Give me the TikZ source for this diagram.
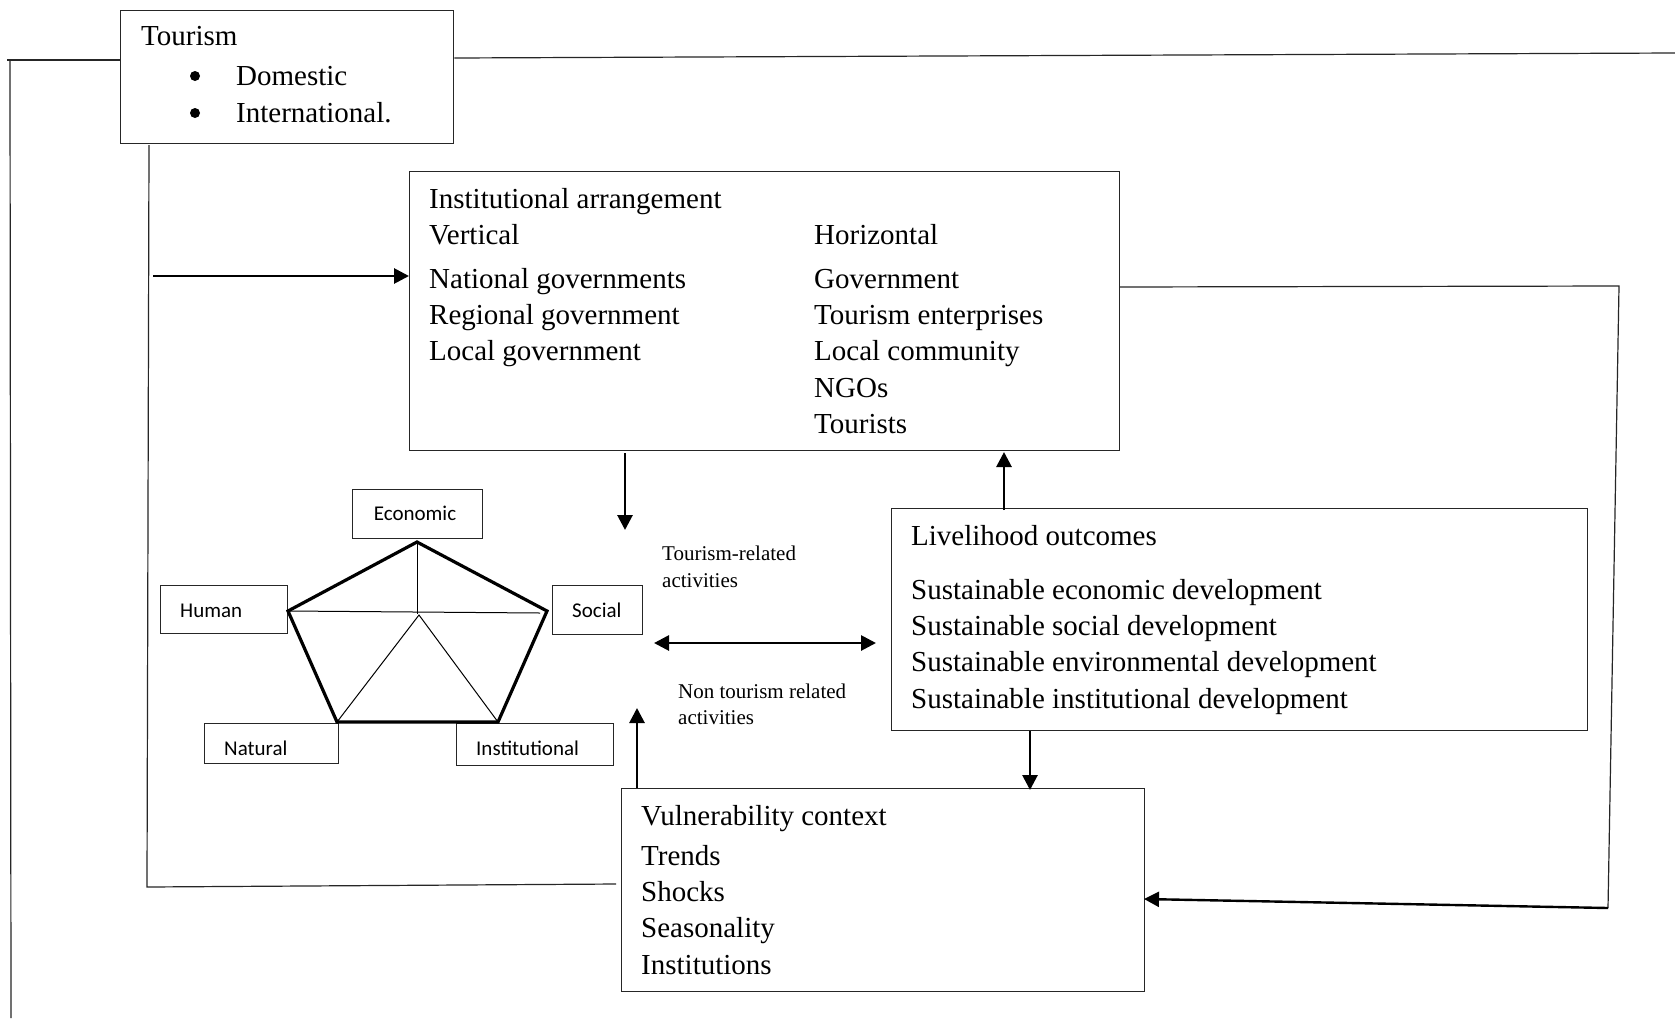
\documentclass[tikz,border=0pt]{standalone}
\usepackage{fontspec}
\setmainfont{Liberation Serif}
\newfontfamily\carlfont{Carlito}
\usetikzlibrary{arrows.meta}
\begin{document}
\begin{tikzpicture}[x=1pt,y=-1pt,
  box/.style={draw=black!85,line width=1.3pt,anchor=north west,inner sep=0pt},
  pbox/.style={draw=black!85,line width=1.3pt,anchor=north west,inner sep=0pt},
  bigtext/.style={anchor=base west,inner sep=0pt,font=\fontsize{29}{35}\selectfont},
  smalltext/.style={anchor=base west,inner sep=0pt,font=\fontsize{21}{26}\selectfont},
  captext/.style={anchor=base west,inner sep=0pt,font=\carlfont\fontsize{21}{26}\selectfont},
  thinline/.style={line width=1.2pt,draw=black!85},
  arr/.style={line width=2.8pt,-{Triangle[length=15pt,width=15pt]}},
  darr/.style={line width=2.8pt,{Triangle[length=15pt,width=15pt]}-{Triangle[length=15pt,width=15pt]}},
  penout/.style={line width=3.2pt,line join=miter},
  penin/.style={line width=1pt}]
\useasboundingbox (0,0) rectangle (1675,1018);
\fill[white] (0,0) rectangle (1675,1018);

% boxes
\node[box,minimum width=333pt,minimum height=133pt] (tour) at (120,10) {};
\node[box,minimum width=710pt,minimum height=279pt] (inst) at (409,171) {};
\node[box,minimum width=696pt,minimum height=222pt] (liv) at (891,508) {};
\node[box,minimum width=523pt,minimum height=203pt] (vuln) at (621,788) {};

% tourism text
\node[bigtext] (t0) at (141,45) {Tourism};
\node[bigtext] (t1) at (236,85) {Domestic};
\node[bigtext] (t2) at (236,122) {International.};
\fill (195,76) circle (5pt);
\fill (195,113) circle (5pt);

% institutional text
\node[bigtext] (i0) at (429,208) {Institutional arrangement};
\node[bigtext] (i1) at (429,244) {Vertical};
\node[bigtext] (i2) at (429,288) {National governments};
\node[bigtext] (i3) at (429,324) {Regional government};
\node[bigtext] (i4) at (429,360) {Local government};
\node[bigtext] (h1) at (814,244) {Horizontal};
\node[bigtext] (h2) at (814,288) {Government};
\node[bigtext] (h3) at (814,324) {Tourism enterprises};
\node[bigtext] (h4) at (814,360) {Local community};
\node[bigtext] (h5) at (814,397) {NGOs};
\node[bigtext] (h6) at (814,433) {Tourists};

% livelihood text
\node[bigtext] (l0) at (911,545) {Livelihood outcomes};
\node[bigtext] (l1) at (911,599) {Sustainable economic development};
\node[bigtext] (l2) at (911,635) {Sustainable social development};
\node[bigtext] (l3) at (911,671) {Sustainable environmental development};
\node[bigtext] (l4) at (911,708) {Sustainable institutional development};

% vulnerability text
\node[bigtext] (v0) at (641,825) {Vulnerability context};
\node[bigtext] (v1) at (641,865) {Trends};
\node[bigtext] (v2) at (641,901) {Shocks};
\node[bigtext] (v3) at (641,937) {Seasonality};
\node[bigtext] (v4) at (641,974) {Institutions};

% activities labels
\node[smalltext] (a1) at (662,560) {Tourism-related};
\node[smalltext] (a2) at (662,587) {activities};
\node[smalltext] (a3) at (678,698) {Non tourism related};
\node[smalltext] (a4) at (678,724) {activities};

% capital boxes
\node[pbox,minimum width=130pt,minimum height=49pt] (eco) at (352,489) {};
\node[pbox,minimum width=127pt,minimum height=48pt] (hum) at (160,585) {};
\node[pbox,minimum width=90pt,minimum height=49pt] (soc) at (552,585) {};
\node[pbox,minimum width=134pt,minimum height=40pt] (nat) at (204,723) {};
\node[pbox,minimum width=157pt,minimum height=42pt] (ins) at (456,723) {};
\node[captext,anchor=base] (ecot) at (415,520) {Economic};
\node[captext] (humt) at (180,617) {Human};
\node[captext] (soct) at (572,617) {Social};
\node[captext] (natt) at (224,755) {Natural};
\node[captext] (inst2) at (476,755) {Institutional};

% pentagon
\coordinate (pT) at (417,542);
\coordinate (pL) at (288,611);
\coordinate (pR) at (547,611);
\coordinate (pBL) at (337,722);
\coordinate (pBR) at (498,722);
\coordinate (pC) at (417,614);
\coordinate (pCr) at (540,613);
\draw[penin] (pT) -- (pC);
\draw[penin] (pL) -- (pCr);
\draw[penin] (pBL) -- (419,615) -- (pBR);
\draw[penout] (pT) -- (pR) -- (pBR) -- (pBL) -- (pL) -- cycle;

% outer frame lines from tourism box
\coordinate (oL1) at (7,60);
\coordinate (oL2) at (11,1018);
\coordinate (oR) at (1675,53);
\draw[thinline] (tour.west |- 0,60) -- (oL1);
\draw[thinline] (10,60) -- (oL2);
\draw[thinline] (tour.east |- 0,58) -- (oR);

% inner loop
\coordinate (ib1) at (147,887);
\coordinate (ib2) at (616,884);
\draw[thinline] (149,145) -- (ib1) -- (ib2);
\coordinate (arS) at (153,276);
\draw[arr] (arS) -- (inst.west |- arS);

% right loop
\coordinate (r1) at (1619,286);
\coordinate (r2) at (1608,908);
\draw[thinline] (1119,287) -- (r1) -- (r2);
\draw[arr,line width=2.4pt] (r2) -- (1144,899);

% arrows
\coordinate (dInst) at (625,530);
\draw[arr] (625,453) -- (dInst);
\draw[arr] (1004,510) -- (1004,452);
\draw[arr] (1030,731) -- (1030,790);
\coordinate (uAct) at (637,708);
\draw[arr] (637,788) -- (uAct);
\coordinate (dL) at (654,643);
\coordinate (dR) at (876,643);
\draw[darr] (dL) -- (dR);
\end{tikzpicture}
\end{document}
